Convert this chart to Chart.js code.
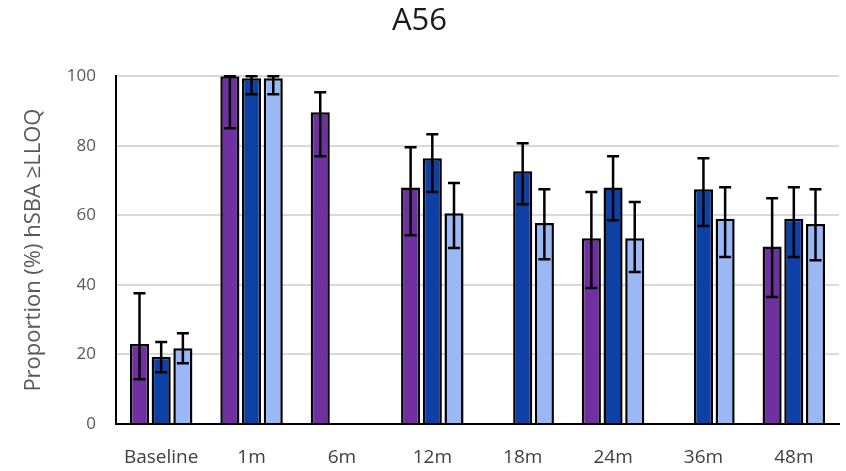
<!DOCTYPE html>
<html>
<head>
<meta charset="utf-8">
<script src="https://cdn.jsdelivr.net/npm/chart.js@4.4.0/dist/chart.umd.min.js"></script>
<style>
  body { margin: 0; background: #fff; }
</style>
</head>
<body>
<canvas id="chart" width="846" height="471"></canvas>
<script>
// timepoints
const categories = ['Baseline', '1m', '6m', '12m', '18m', '24m', '36m', '48m'];

// proportions (%) per group, null = not measured
const group1 = [23, 100, 89.6, 68, null, 53.4, null, 51];
const group2 = [19.3, 99.4, null, 76.4, 72.7, 68, 67.5, 59];
const group3 = [21.8, 99.4, null, 60.6, 57.8, 53.4, 59, 57.5];

// 95% CI bounds
const group1Low = [12.9, 85, 77, 54.3, null, 39.1, null, 36.5];
const group1High = [37.6, 100, 95.4, 79.6, null, 66.7, null, 64.9];
const group2Low = [14.9, 94.8, null, 66.7, 63.2, 58.6, 56.9, 48];
const group2High = [23.6, 100, null, 83.3, 80.7, 77, 76.4, 68.1];
const group3Low = [17.5, 94.8, null, 50.6, 47.4, 43.7, 48, 47.1];
const group3High = [26.1, 100, null, 69.3, 67.5, 63.8, 68.1, 67.5];

const yTicks = [0, 20, 40, 60, 80, 100];

const errLow = [group1Low, group2Low, group3Low];
const errHigh = [group1High, group2High, group3High];

const textFont = "'Open Sans', Lato, sans-serif";

// draws the confidence interval whiskers on top of each bar
const errorBars = {
    id: 'errorBars',
    afterDatasetsDraw(chart) {
        const ctx = chart.ctx;
        const yScale = chart.scales.y;
        ctx.save();
        ctx.strokeStyle = '#000';
        ctx.lineWidth = 2.5;
        chart.data.datasets.forEach(function(ds, d) {
            const meta = chart.getDatasetMeta(d);
            meta.data.forEach(function(bar, i) {
                const lo = errLow[d][i];
                const hi = errHigh[d][i];
                if (lo == null || hi == null) return;
                const x = bar.x;
                const yLo = yScale.getPixelForValue(lo);
                const yHi = yScale.getPixelForValue(hi);
                ctx.beginPath();
                ctx.moveTo(x, yLo);
                ctx.lineTo(x, yHi);
                ctx.moveTo(x - 6, yLo);
                ctx.lineTo(x + 6, yLo);
                ctx.moveTo(x - 6, yHi);
                ctx.lineTo(x + 6, yHi);
                ctx.stroke();
            });
        });
        ctx.restore();
    }
};

new Chart(document.getElementById('chart').getContext('2d'), {
    type: 'bar',
    data: {
        labels: categories,
        datasets: [
            { label: 'Group 1', data: group1, backgroundColor: '#7030a0', borderColor: '#000', borderWidth: 2.5 },
            { label: 'Group 2', data: group2, backgroundColor: '#0d41a6', borderColor: '#000', borderWidth: 2.5 },
            { label: 'Group 3', data: group3, backgroundColor: '#99b8f5', borderColor: '#000', borderWidth: 2.5 }
        ]
    },
    options: {
        responsive: false,
        animation: false,
        layout: { padding: { left: 0, right: 7, top: 0, bottom: 0 } },
        datasets: { bar: { categoryPercentage: 0.72, barPercentage: 0.88 } },
        scales: {
            y: {
                min: 0,
                max: 100,
                afterFit: function(scale) { scale.width = 116; },
                afterBuildTicks: function(scale) { scale.ticks = yTicks.map(v => ({ value: v })); },
                grid: { color: '#d9d9d9', lineWidth: 2, drawTicks: false },
                border: { display: true, color: '#000', width: 2 },
                ticks: { color: '#595959', padding: 20, font: { family: textFont, size: 17 } },
                title: {
                    display: true,
                    text: 'Proportion (%) hSBA ≥LLOQ',
                    color: '#595959',
                    padding: { top: 21 },
                    font: { family: textFont, size: 22 }
                }
            },
            x: {
                afterFit: function(scale) { scale.height = 47; },
                grid: { display: false },
                border: { display: true, color: '#000', width: 2 },
                ticks: { color: '#404040', padding: 14, font: { family: textFont, size: 19 } }
            }
        },
        plugins: {
            legend: { display: false },
            tooltip: { enabled: false },
            title: {
                display: true,
                text: 'A56',
                color: '#1a1a1a',
                padding: { top: 3, bottom: 36 },
                font: { family: textFont, size: 31, weight: 'normal' }
            }
        }
    },
    plugins: [errorBars]
});
</script>
</body>
</html>
